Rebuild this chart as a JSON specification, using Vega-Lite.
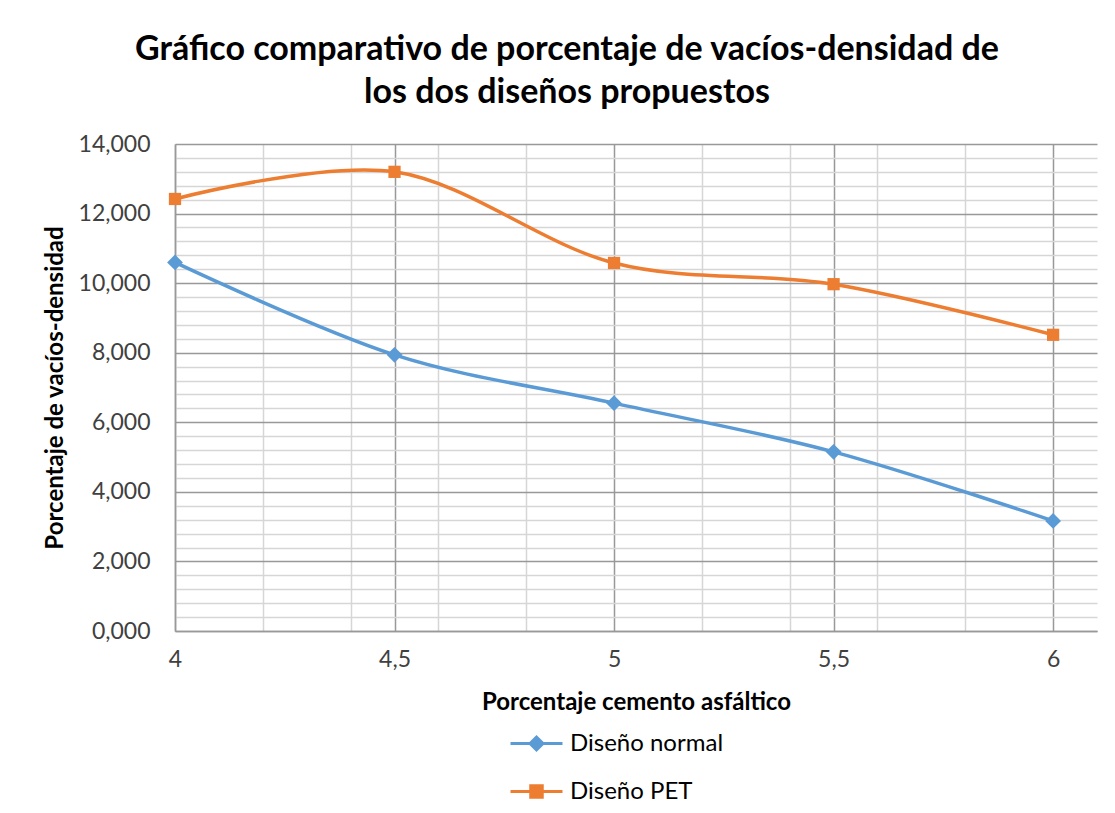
{
  "$schema": "https://vega.github.io/schema/vega-lite/v6.json",
  "width": 922,
  "height": 487,
  "autosize": {"type": "none"},
  "padding": {"left": 175, "top": 144, "right": 18, "bottom": 182},
  "background": "white",
  "config": {
    "font": "Lato",
    "view": {"stroke": null},
    "axis": {"labelFont": "Lato", "titleFont": "Lato"}
  },
  "title": {
    "text": ["Gráfico comparativo de porcentaje de vacíos-densidad de", "los dos diseños propuestos"],
    "font": "Lato",
    "fontSize": 34,
    "fontWeight": "bold",
    "color": "#000000",
    "anchor": "middle",
    "dx": -69,
    "dy": 51,
    "baseline": "bottom",
    "offset": 40,
    "lineHeight": 43
  },
  "data": {
    "values": [
      {"pct": 4.0, "valor": 10.595, "serie": "Diseño normal"},
      {"pct": 4.5, "valor": 7.94, "serie": "Diseño normal"},
      {"pct": 5.0, "valor": 6.55, "serie": "Diseño normal"},
      {"pct": 5.5, "valor": 5.15, "serie": "Diseño normal"},
      {"pct": 6.0, "valor": 3.165, "serie": "Diseño normal"},
      {"pct": 4.0, "valor": 12.42, "serie": "Diseño PET"},
      {"pct": 4.5, "valor": 13.2, "serie": "Diseño PET"},
      {"pct": 5.0, "valor": 10.58, "serie": "Diseño PET"},
      {"pct": 5.5, "valor": 9.97, "serie": "Diseño PET"},
      {"pct": 6.0, "valor": 8.515, "serie": "Diseño PET"}
    ]
  },
  "encoding": {
    "x": {
      "field": "pct",
      "type": "quantitative",
      "scale": {"domain": [4, 6.1], "nice": false, "zero": false},
      "axis": {
        "title": "Porcentaje cemento asfáltico",
        "titleFontSize": 24,
        "titleFontWeight": "bold",
        "titleColor": "#000000",
        "titlePadding": 19,
        "values": [4, 4.2, 4.4, 4.5, 4.6, 4.8, 5, 5.2, 5.4, 5.5, 5.6, 5.8, 6],
        "labelExpr": "round(datum.value*10) % 5 === 0 ? replace(format(datum.value, '.1~f'), '.', ',') : ''",
        "labelFontSize": 23,
        "labelColor": "#404040",
        "labelPadding": 17,
        "labelOverlap": false,
        "labelFlush": false,
        "ticks": false,
        "domain": true,
        "domainColor": "#999999",
        "domainWidth": 1.5,
        "grid": true,
        "gridColor": {"condition": {"test": "round(datum.value*10) % 5 === 0", "value": "#999999"}, "value": "#d6d6d6"},
        "gridWidth": 1.5,
        "gridOpacity": 1
      }
    },
    "y": {
      "field": "valor",
      "type": "quantitative",
      "scale": {"domain": [0, 14], "nice": false},
      "axis": {
        "title": "Porcentaje de vacíos-densidad",
        "titleFontSize": 24,
        "titleFontWeight": "bold",
        "titleColor": "#000000",
        "titlePadding": 11,
        "values": [0, 0.4, 0.8, 1.2, 1.6, 2, 2.4, 2.8, 3.2, 3.6, 4, 4.4, 4.8, 5.2, 5.6, 6, 6.4, 6.8, 7.2, 7.6, 8, 8.4, 8.8, 9.2, 9.6, 10, 10.4, 10.8, 11.2, 11.6, 12, 12.4, 12.8, 13.2, 13.6, 14],
        "labelExpr": "round(datum.value*10) % 20 === 0 ? replace(format(datum.value, '.3f'), '.', ',') : ''",
        "labelFontSize": 23,
        "labelColor": "#404040",
        "labelPadding": 25,
        "labelOverlap": false,
        "labelFlush": false,
        "ticks": false,
        "domain": true,
        "domainColor": "#999999",
        "domainWidth": 1.5,
        "grid": true,
        "gridColor": {"condition": {"test": "round(datum.value*10) % 20 === 0", "value": "#999999"}, "value": "#d6d6d6"},
        "gridWidth": 1.5,
        "gridOpacity": 1
      }
    },
    "color": {
      "field": "serie",
      "type": "nominal",
      "scale": {"domain": ["Diseño normal", "Diseño PET"], "range": ["#5b9bd5", "#ed7d31"]},
      "legend": {
        "title": null,
        "orient": "none",
        "legendX": 336,
        "legendY": 574,
        "direction": "vertical",
        "labelFontSize": 24,
        "labelFont": "Lato",
        "labelColor": "#000000",
        "labelOffset": 8,
        "symbolSize": 2304,
        "symbolStrokeWidth": 3,
        "rowPadding": 10,
        "encode": {
          "symbols": {
            "update": {
              "shape": {"signal": "datum.value === 'Diseño normal' ? 'M-1.083,0H1.083M-0.27,0L0,-0.27L0.27,0L0,0.27Z' : 'M-1.083,0H1.083M-0.24,-0.24H0.24V0.24H-0.24Z'"},
              "fill": {"scale": "color", "field": "value"},
              "stroke": {"scale": "color", "field": "value"},
              "strokeWidth": {"value": 3},
              "opacity": {"value": 1}
            }
          }
        }
      }
    }
  },
  "layer": [
    {
      "mark": {"type": "line", "interpolate": "cardinal", "tension": 0, "strokeWidth": 3.5},
      "encoding": {}
    },
    {
      "transform": [{"filter": "datum.serie === 'Diseño normal'"}],
      "mark": {"type": "point", "filled": true, "opacity": 1, "shape": "diamond", "size": 250},
      "encoding": {}
    },
    {
      "transform": [{"filter": "datum.serie === 'Diseño PET'"}],
      "mark": {"type": "point", "filled": true, "opacity": 1, "shape": "square", "size": 150},
      "encoding": {}
    }
  ]
}
